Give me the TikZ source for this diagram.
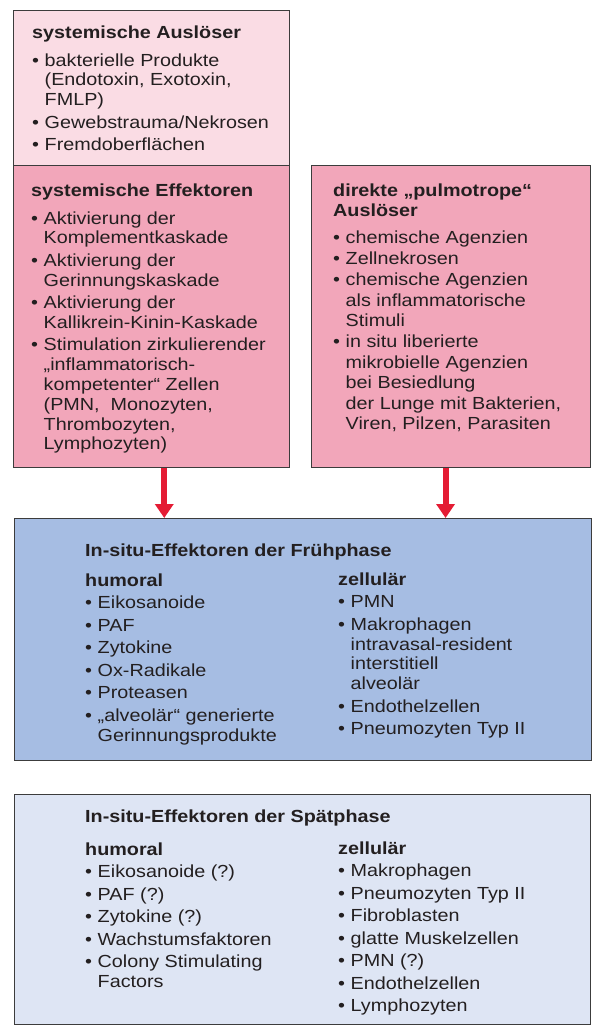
\documentclass[tikz,border=0pt]{standalone}
\usepackage{fontspec}
\setmainfont{Liberation Sans}[FakeStretch=1.13]
\usetikzlibrary{arrows.meta}
\definecolor{rosahell}{RGB}{250,220,228}
\definecolor{rosa}{RGB}{242,166,186}
\definecolor{blau}{RGB}{166,189,227}
\definecolor{blauhell}{RGB}{222,229,244}
\definecolor{rot}{RGB}{228,28,52}
\definecolor{rahmen}{RGB}{60,60,60}
\definecolor{schrift}{RGB}{35,31,32}
\newcommand{\bul}{\makebox[12.5pt][l]{•}}
\newcommand{\ind}{\hspace*{12.5pt}}
\newcommand{\zl}{\rule{0pt}{14pt}}

\begin{document}
\begin{tikzpicture}[x=1pt, y=-1pt,
        kasten/.style={draw=rahmen, line width=1.1pt, anchor=north west, inner sep=0pt},
        txt/.style={anchor=north west, inner sep=0pt, align=left, text=schrift,
            font=\fontsize{17.5}{19.8}\selectfont},
        pfeil/.style={draw=rot, line width=6pt, -{Triangle[width=18pt, length=14pt]}}]
        \useasboundingbox (0, 0) rectangle (593, 1026);

        \node[kasten, fill=rosahell, minimum width=276pt, minimum height=155pt] (ausl) at (13, 10) {};
        \node[kasten, fill=rosa, minimum width=276pt, minimum height=302pt] (eff) at (13, 165) {};
        \node[kasten, fill=rosa, minimum width=279pt, minimum height=302pt] (pulm) at (311, 165) {};
        \node[kasten, fill=blau, minimum width=577pt, minimum height=242pt] (frueh) at (14, 518) {};
        \node[kasten, fill=blauhell, minimum width=576pt, minimum height=230pt] (spaet) at (14, 794) {};

        \draw[pfeil] ([xshift=12.7pt]eff.south) -- ([xshift=12.7pt]eff.south |- frueh.north);
        \draw[pfeil] ([xshift=-5.5pt]pulm.south) -- ([xshift=-5.5pt]pulm.south |- frueh.north);

        \node[txt] (ausl-t) at (32, 24) {\zl\textbf{systemische Auslöser}\\[8pt]
            \bul bakterielle Produkte\\
            \ind (Endotoxin, Exotoxin,\\
            \ind FMLP)\\[2.7pt]
            \bul Gewebstrauma/Nekrosen\\[2.7pt]
            \bul Fremdoberflächen};

        \node[txt] (eff-t) at (31, 182) {\zl\textbf{systemische Effektoren}\\[8pt]
            \bul Aktivierung der\\
            \ind Komplementkaskade\\[2.7pt]
            \bul Aktivierung der\\
            \ind Gerinnungskaskade\\[2.7pt]
            \bul Aktivierung der\\
            \ind Kallikrein-Kinin-Kaskade\\[2.7pt]
            \bul Stimulation zirkulierender\\
            \ind „inflammatorisch-\\
            \ind kompetenter“ Zellen\\
            \ind (PMN,\ \ Monozyten,\\
            \ind Thrombozyten,\\
            \ind Lymphozyten)};

        \node[txt, font=\fontsize{17.5}{20.5}\selectfont] (pulm-t) at (333, 182) {\zl\textbf{direkte „pulmotrope“}\\
            \textbf{Auslöser}\\[6.5pt]
            \bul chemische Agenzien\\[0.5pt]
            \bul Zellnekrosen\\[0.5pt]
            \bul chemische Agenzien\\
            \ind als inflammatorische\\
            \ind Stimuli\\[0.5pt]
            \bul in situ liberierte\\
            \ind mikrobielle Agenzien\\
            \ind bei Besiedlung\\
            \ind der Lunge mit Bakterien,\\
            \ind Viren, Pilzen, Parasiten};

        \node[txt] (frueh-t) at (85, 542) {\zl\textbf{In-situ-Effektoren der Frühphase}};
        \node[txt] (frueh-h) at (85, 572) {\zl\textbf{humoral}\\[2.7pt]
            \bul Eikosanoide\\[2.7pt]
            \bul PAF\\[2.7pt]
            \bul Zytokine\\[2.7pt]
            \bul Ox-Radikale\\[2.7pt]
            \bul Proteasen\\[2.7pt]
            \bul „alveolär“ generierte\\
            \ind Gerinnungsprodukte};
        \node[txt] (frueh-z) at (338, 571) {\zl\textbf{zellulär}\\[2.7pt]
            \bul PMN\\[2.7pt]
            \bul Makrophagen\\
            \ind intravasal-resident\\
            \ind interstitiell\\
            \ind alveolär\\[2.7pt]
            \bul Endothelzellen\\[2.7pt]
            \bul Pneumozyten Typ II};

        \node[txt] (spaet-t) at (85, 808) {\zl\textbf{In-situ-Effektoren der Spätphase}};
        \node[txt] (spaet-h) at (85, 841) {\zl\textbf{humoral}\\[2.7pt]
            \bul Eikosanoide (?)\\[2.7pt]
            \bul PAF (?)\\[2.7pt]
            \bul Zytokine (?)\\[2.7pt]
            \bul Wachstumsfaktoren\\[2.7pt]
            \bul Colony Stimulating\\
            \ind Factors};
        \node[txt] (spaet-z) at (338, 840) {\zl\textbf{zellulär}\\[2.7pt]
            \bul Makrophagen\\[2.7pt]
            \bul Pneumozyten Typ II\\[2.7pt]
            \bul Fibroblasten\\[2.7pt]
            \bul glatte Muskelzellen\\[2.7pt]
            \bul PMN (?)\\[2.7pt]
            \bul Endothelzellen\\[2.7pt]
            \bul Lymphozyten};

        \end{tikzpicture}
\end{document}
